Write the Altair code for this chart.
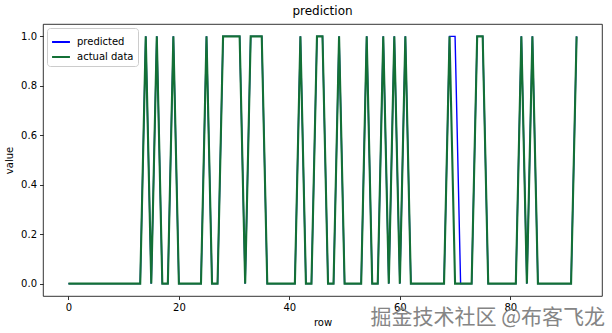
import altair as alt
import pandas as pd

rows = list(range(93))
actual = [0,0,0,0,0,0,0,0,0,0,0,0,0,0,1,0,1,0,0,1,
          0,0,0,0,0,1,0,0,1,1,1,1,0,1,1,1,0,0,0,0,
          0,0,1,0,0,1,1,0,0,1,0,0,0,0,1,0,0,1,0,1,
          0,1,0,0,0,0,0,0,0,1,0,0,0,0,1,1,0,0,0,0,
          0,0,1,0,1,0,0,0,0,0,0,0,1]
predicted = [0,0,0,0,0,0,0,0,0,0,0,0,0,0,1,0,1,0,0,1,
             0,0,0,0,0,1,0,0,1,1,1,1,0,1,1,1,0,0,0,0,
             0,0,1,0,0,1,1,0,0,1,0,0,0,0,1,0,0,1,0,1,
             0,1,0,0,0,0,0,0,0,1,1,0,0,0,1,1,0,0,0,0,
             0,0,1,0,1,0,0,0,0,0,0,0,1]
series_names = ["predicted", "actual data"]
series_colors = ["#0000ff", "#137036"]
x_ticks = [0, 20, 40, 60, 80]
y_ticks = [0.0, 0.2, 0.4, 0.6, 0.8, 1.0]
watermark = "掘金技术社区 @布客飞龙"

df = pd.DataFrame({
    "row": rows + rows,
    "value": predicted + actual,
    "series": [series_names[0]] * len(rows) + [series_names[1]] * len(rows),
})

x = alt.X("row:Q",
          scale=alt.Scale(domain=[-4.6, 96.6], nice=False, zero=False),
          axis=alt.Axis(values=x_ticks, title="row", grid=False, format="d",
                        titlePadding=5))
y = alt.Y("value:Q",
          scale=alt.Scale(domain=[-0.05, 1.05], nice=False, zero=False),
          axis=alt.Axis(values=y_ticks, title="value", grid=False, format=".1f",
                        titlePadding=6))
color = alt.Color("series:N",
                  scale=alt.Scale(domain=series_names, range=series_colors),
                  legend=alt.Legend(title=None, orient="top-left", offset=4,
                                    padding=4, fillColor="white",
                                    strokeColor="#cccccc", cornerRadius=3,
                                    symbolType="stroke", symbolStrokeWidth=2,
                                    symbolSize=320, rowPadding=0,
                                    labelFontSize=10, labelFont="DejaVu Sans",
                                    labelColor="black", labelOffset=6))

pred = alt.Chart(df).mark_line(strokeWidth=1.4, clip=True).encode(
    x=x, y=y, color=color, order="row:Q"
).transform_filter(alt.datum.series == "predicted")
act = alt.Chart(df).mark_line(strokeWidth=2.1, clip=True).encode(
    x=x, y=y, color=color, order="row:Q"
).transform_filter(alt.datum.series == "actual data")

wm = alt.Chart(pd.DataFrame({"t": [watermark]})).mark_text(
    font="Noto Sans CJK SC", fontSize=21, color="#858585", align="right",
    baseline="middle").encode(text="t:N", x=alt.value(562), y=alt.value(294))

chart = alt.layer(pred, act, wm).properties(
    width=559, height=272,
    title=alt.Title("prediction", fontSize=12, font="DejaVu Sans",
                    fontWeight="normal", offset=6, anchor="middle",
                    color="black"),
    autosize=alt.AutoSizeParams(type="none"),
    padding={"left": 43, "top": 24, "right": 10, "bottom": 37},
).configure_view(stroke="black", strokeWidth=0.8).configure_axis(
    domain=False, tickColor="black", tickSize=3.5, tickWidth=0.8,
    labelPadding=3, labelFont="DejaVu Sans", labelFontSize=10,
    labelColor="black", titleFont="DejaVu Sans", titleFontSize=10,
    titleFontWeight="normal", titleColor="black"
)

chart.save("out.html", embed_options={"renderer": "svg", "actions": False})
